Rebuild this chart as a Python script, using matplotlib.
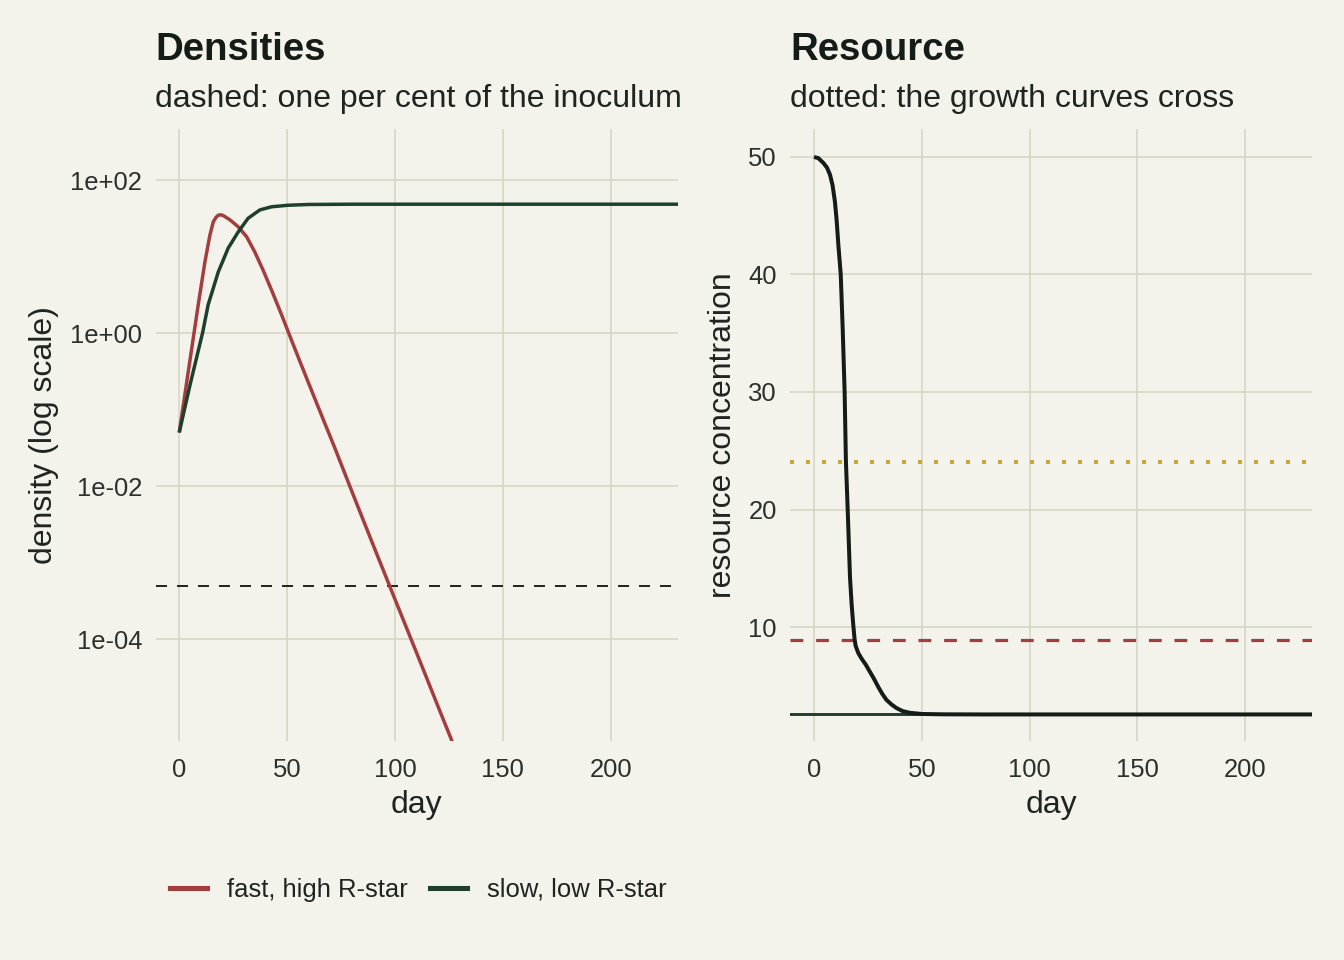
import matplotlib
matplotlib.use("Agg")
import matplotlib.pyplot as plt
from matplotlib.lines import Line2D

# ---------------- data ----------------
fast_day = [0, 3, 6, 8.8, 11.9, 14.2, 15.8, 17, 18.1, 19.3, 20.4, 23.5, 27.3, 31.2,
            35.0, 38.9, 42.8, 47.4, 52, 56, 64, 72, 80, 90, 100, 110, 120, 130]
fast_density = [0.05, 0.186, 0.69, 2.34, 8.5, 19.0, 28.5, 32.4, 34.7, 35.1, 34.3, 30.2,
                24.5, 18.2, 11.5, 6.6, 3.63, 1.74, 0.81, 0.42, 0.115, 0.032, 8.5e-3,
                1.66e-3, 3.3e-4, 6.6e-5, 1.3e-5, 2.6e-6]

slow_day = [0, 5, 10.8, 13.4, 18.1, 22.7, 27.3, 31.9, 37.4, 42.8, 50.5, 60, 80, 120,
            160, 200, 240]
slow_density = [0.05, 0.21, 1.0, 2.34, 6.3, 12.9, 20.9, 31.6, 40.7, 44.7, 46.8, 47.9,
                48.3, 48.3, 48.3, 48.3, 48.3]

inoculum_threshold = 5e-4

res_day = [0, 2, 4.3, 6, 7.4, 8.6, 9.7, 10.5, 11.3, 12.4, 13.3, 14.2, 14.8, 15.6, 16.7,
           17.5, 18.2, 18.8, 19.3, 20.5, 22.1, 24, 25.9, 27.8, 29.8, 31.7, 33.6, 36,
           38.3, 41, 44.4, 50, 60, 80, 240]
res_conc = [50, 49.9, 49.5, 49.1, 48.5, 47.6, 46.2, 44.6, 42.5, 40, 35.4, 30, 24.1, 20.1,
            14.2, 11.8, 10.2, 9.0, 8.4, 7.8, 7.3, 6.8, 6.2, 5.6, 4.9, 4.3, 3.8, 3.4,
            3.1, 2.85, 2.7, 2.6, 2.57, 2.56, 2.56]

rstar_fast = 8.87
rstar_slow = 2.56
cross_level = 24.0

x_ticks = [0, 50, 100, 150, 200]
log_ticks = [1e2, 1e0, 1e-2, 1e-4]
log_tick_labels = ["1e+02", "1e+00", "1e-02", "1e-04"]
res_ticks = [10, 20, 30, 40, 50]

legend_labels = ["fast, high R-star", "slow, low R-star"]

# ---------------- style ----------------
BG = "#F3F2EB"
GRID = "#D6D6C4"
TXT = "#1E2420"
TICK = "#2B302C"
RED = "#A43E3E"
GREEN = "#1F3F2D"
BLACK = "#141C17"
GOLD = "#C4A83C"

plt.rcParams["font.family"] = ["Liberation Sans", "DejaVu Sans"]

fig = plt.figure(figsize=(7, 5), dpi=192, facecolor=BG)
W, H = 1344, 960


def add_axes(x0, x1, y0, y1):
    return fig.add_axes([x0 / W, 1 - y1 / H, (x1 - x0) / W, (y1 - y0) / H])


axL = add_axes(155.5, 677.7, 129, 741)
axR = add_axes(790.3, 1312, 129, 741)

for ax in (axL, axR):
    ax.set_facecolor(BG)
    for s in ax.spines.values():
        s.set_visible(False)
    ax.grid(True, color=GRID, lw=0.6)
    ax.set_axisbelow(True)
    ax.tick_params(length=0, labelsize=9.6, labelcolor=TICK, pad=5.0)
    ax.tick_params(axis="x", pad=6.2)
    ax.set_xlim(-11, 231)
    ax.set_xticks(x_ticks)
    ax.set_xlabel("day", fontsize=12, color=TXT, labelpad=3)

# ---- left: densities ----
axL.set_yscale("log")
axL.set_ylim(10 ** -5.333, 10 ** 2.667)
axL.set_yticks(log_ticks)
axL.set_yticklabels(log_tick_labels)
axL.yaxis.set_minor_locator(matplotlib.ticker.NullLocator())
axL.axhline(inoculum_threshold, color="#222824", lw=0.75, ls=(0, (5.5, 5.0)))
axL.plot(fast_day, fast_density, color=RED, lw=1.3, solid_joinstyle="round",
         solid_capstyle="butt")
axL.plot(slow_day, slow_density, color=GREEN, lw=1.3, solid_joinstyle="round",
         solid_capstyle="butt")
axL.set_ylabel("density (log scale)", fontsize=12, color=TXT, labelpad=4)

# ---- right: resource ----
axR.set_ylim(0.3, 52.38)
axR.set_yticks(res_ticks)
axR.axhline(cross_level, color=GOLD, lw=1.5, ls=(0, (1, 3)))
axR.axhline(rstar_fast, color=RED, lw=1.2, ls=(0, (4, 4)))
axR.axhline(rstar_slow, color=GREEN, lw=1.1)
axR.plot(res_day, res_conc, color=BLACK, lw=1.5, solid_joinstyle="round",
         solid_capstyle="butt")
axR.set_ylabel("resource concentration", fontsize=12, color=TXT, labelpad=4)

# ---- titles ----
fig.text(155 / W, 1 - 60 / H, "Densities", fontsize=14.4, fontweight="bold",
         color=BLACK, va="baseline", ha="left")
fig.text(155 / W, 1 - 107 / H, "dashed: one per cent of the inoculum", fontsize=12,
         color=TXT, va="baseline", ha="left")
fig.text(790 / W, 1 - 60 / H, "Resource", fontsize=14.4, fontweight="bold",
         color=BLACK, va="baseline", ha="left")
fig.text(790 / W, 1 - 107 / H, "dotted: the growth curves cross", fontsize=12,
         color=TXT, va="baseline", ha="left")

# ---- legend ----
handles = [Line2D([], [], color=RED, lw=1.9), Line2D([], [], color=GREEN, lw=1.9)]
fig.legend(handles, legend_labels, loc="center", bbox_to_anchor=(418 / W, 1 - 890 / H),
           ncol=2, frameon=False, fontsize=9.6, handlelength=1.45, handletextpad=0.78,
           columnspacing=0.86, labelcolor=TXT)

fig.savefig("out.png", dpi=192, facecolor=BG)
